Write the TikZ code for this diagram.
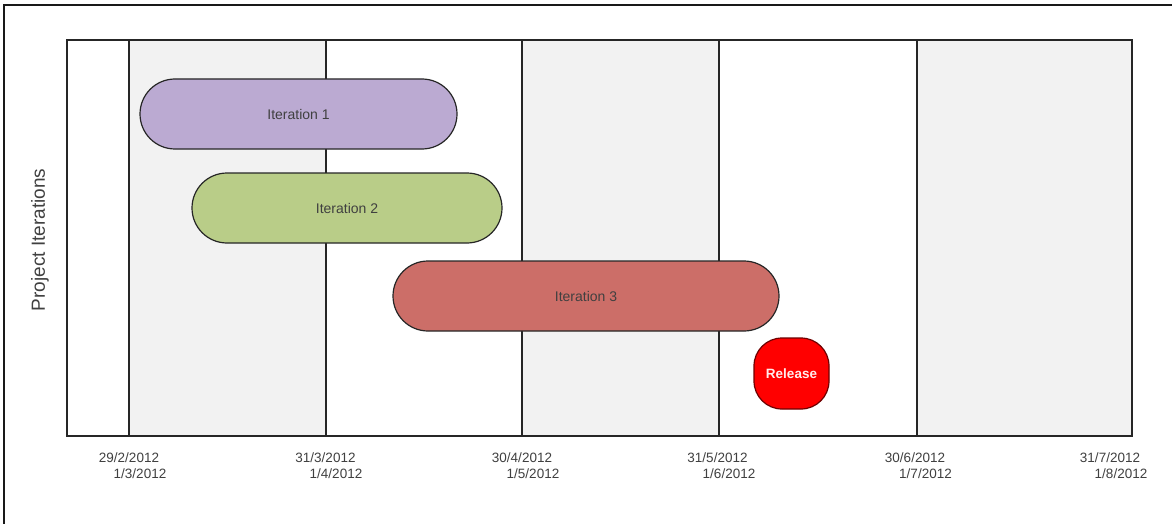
\documentclass[tikz,border=0pt]{standalone}
\usepackage{fontspec}
\setmainfont{Liberation Sans}
\begin{document}
\begin{tikzpicture}[x=1pt,y=-1pt,
  txt/.style={text=black!75},
  datelbl/.style={txt,font=\fontsize{13.5}{15}\selectfont,inner sep=0pt},
  iter/.style={draw=black!85,line width=1.2pt,minimum height=70pt,rounded corners=35pt,inner sep=0pt,font=\fontsize{14}{15}\selectfont,txt},
  col/.style={fill=black!5,draw=none},
  gridline/.style={draw=black!85,line width=1.3pt}
]
\useasboundingbox (0,0) rectangle (1172,524);
\fill[white] (0,0) rectangle (1172,524);
% outer frame (partly outside)
\draw[line width=1.5pt,black!90] (4,530) -- (4,5) -- (1180,5);
% shaded columns
\fill[col] (129,40) rectangle (326,436);
\fill[col] (522,40) rectangle (719,436);
\fill[col] (917,40) rectangle (1132,436);
% grid lines
\foreach \x in {129,326,522,719,917}{\draw[gridline] (\x,40) -- (\x,436);}
\draw[gridline] (67,40) rectangle (1132,436);
% axis title
\node[txt,rotate=90,font=\fontsize{19}{21}\selectfont] (ytitle) at (40,240) {Project Iterations};
% bars
\node[iter,fill={rgb,255:red,187;green,170;blue,210},minimum width=317pt] (it1) at (298.5,114) {Iteration 1};
\node[iter,fill={rgb,255:red,185;green,205;blue,136},minimum width=310pt] (it2) at (347,208) {Iteration 2};
\node[iter,fill={rgb,255:red,204;green,110;blue,104},minimum width=386pt] (it3) at (586,296) {Iteration 3};
\node[draw={rgb,255:red,110;green,0;blue,0},line width=1.2pt,fill={rgb,255:red,255;green,0;blue,0},minimum width=75pt,minimum height=71pt,rounded corners=28pt,inner sep=0pt,text=white!92!red,font=\bfseries\fontsize{13.5}{15}\selectfont] (rel) at (791.5,373.5) {Release};
% date labels
\node[datelbl] (d1a) at (129,458) {29/2/2012};
\node[datelbl] (d1b) at (140,474) {1/3/2012};
\node[datelbl] (d2a) at (325.5,458) {31/3/2012};
\node[datelbl] (d2b) at (336,474) {1/4/2012};
\node[datelbl] (d3a) at (522,458) {30/4/2012};
\node[datelbl] (d3b) at (533,474) {1/5/2012};
\node[datelbl] (d4a) at (717.5,458) {31/5/2012};
\node[datelbl] (d4b) at (729,474) {1/6/2012};
\node[datelbl] (d5a) at (915,458) {30/6/2012};
\node[datelbl] (d5b) at (925.5,474) {1/7/2012};
\node[datelbl] (d6a) at (1110,458) {31/7/2012};
\node[datelbl] (d6b) at (1121,474) {1/8/2012};
\end{tikzpicture}
\end{document}
